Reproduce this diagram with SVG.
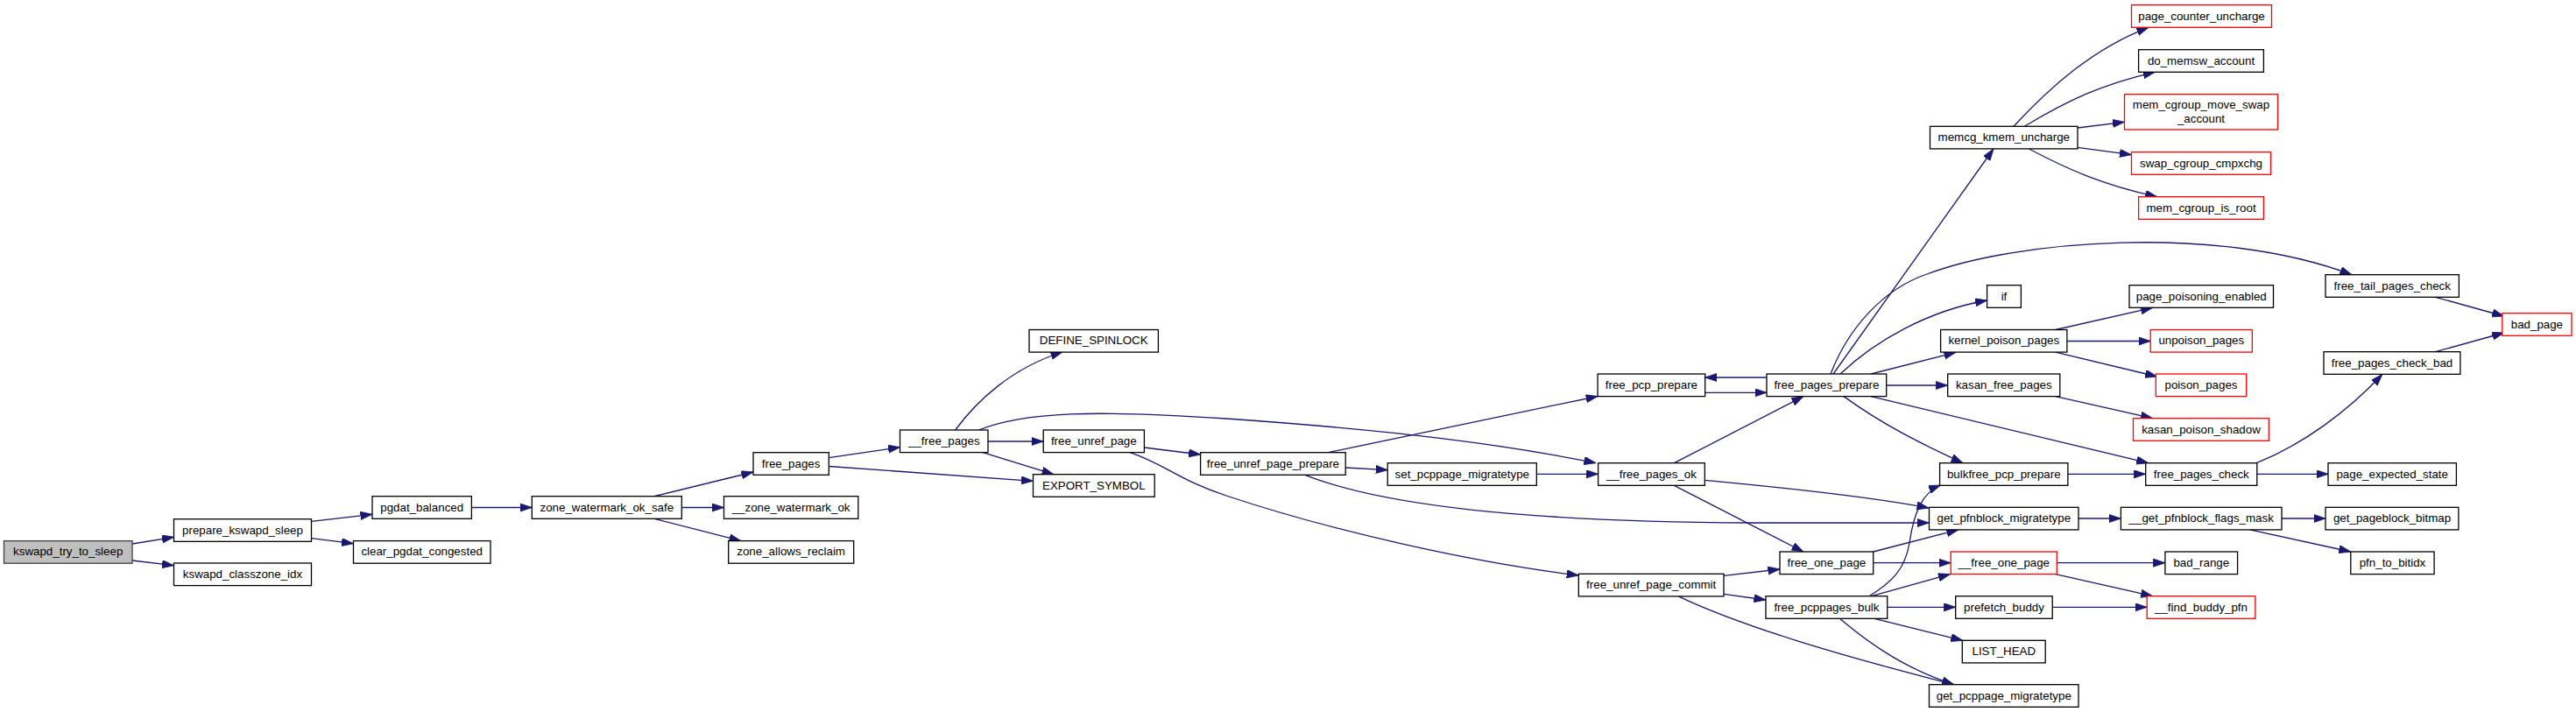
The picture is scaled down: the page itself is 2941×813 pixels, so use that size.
<svg xmlns="http://www.w3.org/2000/svg" width="2941" height="813" viewBox="0 0 2941 813">
<defs>
<style>
.n rect{fill:#ffffff;stroke:#000000;stroke-width:1.3}
.n.r rect{stroke:#ff0000}
.n.root rect{fill:#bfbfbf;stroke:#404040}
.n text{font-family:"Liberation Sans",Arial,Helvetica,sans-serif;font-size:13.33px;fill:#000;text-anchor:middle}
#edges path{fill:none;stroke:#191970;stroke-width:1.3;marker-end:url(#ah)}
</style>
<marker id="ah" markerUnits="userSpaceOnUse" markerWidth="16" markerHeight="12" refX="13.5" refY="4.6" orient="auto" viewBox="0 0 16 12">
<path d="M0,0 L13.5,4.6 L0,9.2 z" fill="#191970" stroke="#191970" stroke-width="0.8"/>
</marker>
</defs>
<rect x="0" y="0" width="2941" height="813" fill="#ffffff"/>
<g id="edges">
<path d="M151,621 L198.5,613.3"/>
<path d="M151,640 L198.5,645.7"/>
<path d="M355.5,595.3 L425,587.3"/>
<path d="M355.5,614.7 L403.5,620.7"/>
<path d="M538.4,579.5 L607.3,579.5"/>
<path d="M747,566.7 L860,539"/>
<path d="M778.3,579.5 L826.5,579.5"/>
<path d="M747,592.3 L846,617.7"/>
<path d="M946.3,522.7 L1027.5,510.7"/>
<path d="M946.3,532.5 L1179.5,549.3"/>
<path d="M1090.7,491 C1115,458 1155,420 1213,402"/>
<path d="M1128,504 L1191.2,504"/>
<path d="M1122,516.6 L1203,541.7"/>
<path d="M1117.6,491 C1170,470 1250,468 1400,478 C1600,492 1720,508 1822,528.7"/>
<path d="M1306.4,511 L1370.6,519"/>
<path d="M1290,516.7 C1330,530 1345,548 1400,566 C1520,606 1680,642 1802.3,657"/>
<path d="M1516.3,516.7 L1824.1,452.5"/>
<path d="M1536.2,534 L1584.2,536.7"/>
<path d="M1490,542.3 C1580,578 1750,596 2000,597 L2202.5,597"/>
<path d="M1754.3,541.3 L1824.6,541.3"/>
<path d="M1946.7,448.3 L2017,448.3"/>
<path d="M2017,431 L1946.7,431"/>
<path d="M1911.4,528.7 L2059,452.6"/>
<path d="M1911.4,554.3 L2059,630"/>
<path d="M1946.3,548.3 C2050,558 2150,570 2202,580"/>
<path d="M1968,657.3 L2032,650"/>
<path d="M1968,678.3 L2016,685"/>
<path d="M1916.2,680.9 C1990,716 2100,748 2230.7,781.7"/>
<path d="M2093,427 L2276,170"/>
<path d="M2090,427 C2110,375 2150,330 2200,313 C2300,275 2530,255 2685,313.7"/>
<path d="M2101,427 C2140,390 2200,355 2268.6,343"/>
<path d="M2136,427 L2233,402.3"/>
<path d="M2153.7,440 L2223.7,440"/>
<path d="M2105,452.6 C2150,485 2190,505 2241,528.7"/>
<path d="M2136,452.6 L2452.7,528.7"/>
<path d="M2299,144.3 C2340,100 2390,55 2453,31.3"/>
<path d="M2311.4,144.3 C2360,115 2400,96 2460.3,82.3"/>
<path d="M2372,146 L2425.5,139.3"/>
<path d="M2372,168.3 L2433.5,176.7"/>
<path d="M2316.5,170 C2360,193 2400,211 2462.8,224.7"/>
<path d="M2346.8,376.5 L2457.7,351.3"/>
<path d="M2359.9,389.5 L2455.2,389.5"/>
<path d="M2346.8,402.1 L2462.8,430"/>
<path d="M2346.8,452.6 L2457.7,477.7"/>
<path d="M2780.6,339.3 L2858.8,361"/>
<path d="M2780.6,401.7 L2858.8,380"/>
<path d="M2576.3,528.7 C2630,507 2680,470 2720,427.3"/>
<path d="M2576.8,541.3 L2658,541.3"/>
<path d="M2360.9,541.3 L2449.7,541.3"/>
<path d="M2373,592 L2421.4,592"/>
<path d="M2605,592 L2655,592"/>
<path d="M2568.7,604.9 L2683.8,630"/>
<path d="M2138.7,630 L2235.8,604.9"/>
<path d="M2138.7,642.7 L2227.2,642.7"/>
<path d="M2134,680.7 C2160,665 2175,650 2180,620 C2185,585 2195,562 2215.6,554"/>
<path d="M2136.7,680.7 L2226.5,655.6"/>
<path d="M2154.7,693.3 L2232.7,693.3"/>
<path d="M2140,706.3 L2240.8,731.3"/>
<path d="M2100.4,706.3 C2140,740 2180,765 2230.7,781.7"/>
<path d="M2348.3,642.7 L2471.9,642.7"/>
<path d="M2346.8,655.6 L2457.7,680.7"/>
<path d="M2343.2,693.3 L2451.2,693.3"/>
</g>
<g id="kswapd_try_to_sleep" class="n root"><rect x="4.5" y="617.6" width="146.5" height="25.6"/><text x="77.7" y="634.4">kswapd_try_to_sleep</text></g>
<g id="prepare_kswapd_sleep" class="n"><rect x="198.5" y="592.7" width="157" height="25.6"/><text x="277" y="609.5">prepare_kswapd_sleep</text></g>
<g id="kswapd_classzone_idx" class="n"><rect x="198.5" y="643" width="157" height="25.6"/><text x="277" y="659.8">kswapd_classzone_idx</text></g>
<g id="pgdat_balanced" class="n"><rect x="425" y="566.7" width="113.4" height="25.6"/><text x="481.7" y="583.5">pgdat_balanced</text></g>
<g id="clear_pgdat_congested" class="n"><rect x="403.5" y="617.6" width="156.5" height="25.6"/><text x="481.7" y="634.4">clear_pgdat_congested</text></g>
<g id="zone_watermark_ok_safe" class="n"><rect x="607.3" y="566.7" width="171" height="25.6"/><text x="692.8" y="583.5">zone_watermark_ok_safe</text></g>
<g id="free_pages" class="n"><rect x="860" y="516.7" width="86.3" height="25.6"/><text x="903.1" y="533.5">free_pages</text></g>
<g id="__zone_watermark_ok" class="n"><rect x="826.5" y="566.7" width="153.3" height="25.6"/><text x="903.1" y="583.5">__zone_watermark_ok</text></g>
<g id="zone_allows_reclaim" class="n"><rect x="831.7" y="617.6" width="143" height="25.6"/><text x="903.1" y="634.4">zone_allows_reclaim</text></g>
<g id="__free_pages" class="n"><rect x="1027.5" y="491" width="100.5" height="25.6"/><text x="1077.8" y="507.8">__free_pages</text></g>
<g id="DEFINE_SPINLOCK" class="n"><rect x="1175" y="376.5" width="147.4" height="25.6"/><text x="1248.7" y="393.3">DEFINE_SPINLOCK</text></g>
<g id="free_unref_page" class="n"><rect x="1191.2" y="491" width="115.2" height="25.6"/><text x="1248.8" y="507.8">free_unref_page</text></g>
<g id="EXPORT_SYMBOL" class="n"><rect x="1179.5" y="541.7" width="138.7" height="25.6"/><text x="1248.8" y="558.5">EXPORT_SYMBOL</text></g>
<g id="free_unref_page_prepare" class="n"><rect x="1370.6" y="516.7" width="165.6" height="25.6"/><text x="1453.4" y="533.5">free_unref_page_prepare</text></g>
<g id="set_pcppage_migratetype" class="n"><rect x="1584.2" y="528.7" width="170.1" height="25.6"/><text x="1669.3" y="545.5">set_pcppage_migratetype</text></g>
<g id="free_pcp_prepare" class="n"><rect x="1824.1" y="427" width="122.6" height="25.6"/><text x="1885.4" y="443.8">free_pcp_prepare</text></g>
<g id="__free_pages_ok" class="n"><rect x="1824.6" y="528.7" width="121.7" height="25.6"/><text x="1885.4" y="545.5">__free_pages_ok</text></g>
<g id="free_unref_page_commit" class="n"><rect x="1802.3" y="655.3" width="165.7" height="25.6"/><text x="1885.2" y="672.1">free_unref_page_commit</text></g>
<g id="free_pages_prepare" class="n"><rect x="2017" y="427" width="136.7" height="25.6"/><text x="2085.4" y="443.8">free_pages_prepare</text></g>
<g id="free_one_page" class="n"><rect x="2032" y="630" width="106.7" height="25.6"/><text x="2085.4" y="646.8">free_one_page</text></g>
<g id="free_pcppages_bulk" class="n"><rect x="2016" y="680.7" width="138.7" height="25.6"/><text x="2085.4" y="697.5">free_pcppages_bulk</text></g>
<g id="memcg_kmem_uncharge" class="n"><rect x="2203.5" y="144.3" width="168.5" height="25.6"/><text x="2287.8" y="161.1">memcg_kmem_uncharge</text></g>
<g id="page_counter_uncharge" class="n r"><rect x="2433.5" y="5.7" width="160" height="25.6"/><text x="2513.5" y="22.5">page_counter_uncharge</text></g>
<g id="do_memsw_account" class="n"><rect x="2441.6" y="56.7" width="142.8" height="25.6"/><text x="2513" y="73.5">do_memsw_account</text></g>
<g id="mem_cgroup_move_swap_account" class="n r"><rect x="2425.5" y="107.7" width="175" height="40.3"/><text x="2513" y="124.3">mem_cgroup_move_swap</text><text x="2513" y="139.8">_account</text></g>
<g id="swap_cgroup_cmpxchg" class="n r"><rect x="2433.5" y="173.7" width="159" height="25.6"/><text x="2513" y="190.5">swap_cgroup_cmpxchg</text></g>
<g id="mem_cgroup_is_root" class="n r"><rect x="2441.6" y="224.7" width="142.8" height="25.6"/><text x="2513" y="241.5">mem_cgroup_is_root</text></g>
<g id="free_tail_pages_check" class="n"><rect x="2655" y="313.7" width="152.4" height="25.6"/><text x="2731.2" y="330.5">free_tail_pages_check</text></g>
<g id="if" class="n"><rect x="2268.6" y="325.7" width="38.8" height="25.6"/><text x="2288" y="342.5">if</text></g>
<g id="page_poisoning_enabled" class="n"><rect x="2431" y="325.7" width="164.5" height="25.6"/><text x="2513.3" y="342.5">page_poisoning_enabled</text></g>
<g id="kernel_poison_pages" class="n"><rect x="2215.6" y="376.5" width="144.3" height="25.6"/><text x="2287.8" y="393.3">kernel_poison_pages</text></g>
<g id="unpoison_pages" class="n r"><rect x="2455.2" y="376.5" width="116.1" height="25.6"/><text x="2513.3" y="393.3">unpoison_pages</text></g>
<g id="bad_page" class="n r"><rect x="2856.8" y="357.7" width="79.2" height="25.6"/><text x="2896.4" y="374.5">bad_page</text></g>
<g id="free_pages_check_bad" class="n"><rect x="2653" y="401.7" width="155.9" height="25.6"/><text x="2731" y="418.5">free_pages_check_bad</text></g>
<g id="kasan_free_pages" class="n"><rect x="2223.7" y="427" width="128.1" height="25.6"/><text x="2287.8" y="443.8">kasan_free_pages</text></g>
<g id="poison_pages" class="n r"><rect x="2461.3" y="427" width="103.4" height="25.6"/><text x="2513" y="443.8">poison_pages</text></g>
<g id="kasan_poison_shadow" class="n r"><rect x="2435.5" y="477.7" width="154.9" height="25.6"/><text x="2513" y="494.5">kasan_poison_shadow</text></g>
<g id="bulkfree_pcp_prepare" class="n"><rect x="2214.6" y="528.7" width="146.3" height="25.6"/><text x="2287.8" y="545.5">bulkfree_pcp_prepare</text></g>
<g id="free_pages_check" class="n"><rect x="2449.7" y="528.7" width="127.1" height="25.6"/><text x="2513.3" y="545.5">free_pages_check</text></g>
<g id="page_expected_state" class="n"><rect x="2658" y="528.7" width="146.4" height="25.6"/><text x="2731.2" y="545.5">page_expected_state</text></g>
<g id="get_pfnblock_migratetype" class="n"><rect x="2202.5" y="579.3" width="170.5" height="25.6"/><text x="2287.8" y="596.1">get_pfnblock_migratetype</text></g>
<g id="__get_pfnblock_flags_mask" class="n"><rect x="2421.4" y="579.3" width="183.6" height="25.6"/><text x="2513.2" y="596.1">__get_pfnblock_flags_mask</text></g>
<g id="get_pageblock_bitmap" class="n"><rect x="2655" y="579.3" width="151.9" height="25.6"/><text x="2731" y="596.1">get_pageblock_bitmap</text></g>
<g id="__free_one_page" class="n r"><rect x="2227.2" y="630" width="121.1" height="25.6"/><text x="2287.8" y="646.8">__free_one_page</text></g>
<g id="bad_range" class="n"><rect x="2471.9" y="630" width="82.7" height="25.6"/><text x="2513.3" y="646.8">bad_range</text></g>
<g id="pfn_to_bitidx" class="n"><rect x="2683.8" y="630" width="95.3" height="25.6"/><text x="2731.5" y="646.8">pfn_to_bitidx</text></g>
<g id="prefetch_buddy" class="n"><rect x="2232.7" y="680.7" width="110.5" height="25.6"/><text x="2288" y="697.5">prefetch_buddy</text></g>
<g id="__find_buddy_pfn" class="n r"><rect x="2451.2" y="680.7" width="123.6" height="25.6"/><text x="2513" y="697.5">__find_buddy_pfn</text></g>
<g id="LIST_HEAD" class="n"><rect x="2240.3" y="731.3" width="94.9" height="25.6"/><text x="2287.8" y="748.1">LIST_HEAD</text></g>
<g id="get_pcppage_migratetype" class="n"><rect x="2202.5" y="781.7" width="170.5" height="25.6"/><text x="2287.8" y="798.5">get_pcppage_migratetype</text></g>
</svg>
